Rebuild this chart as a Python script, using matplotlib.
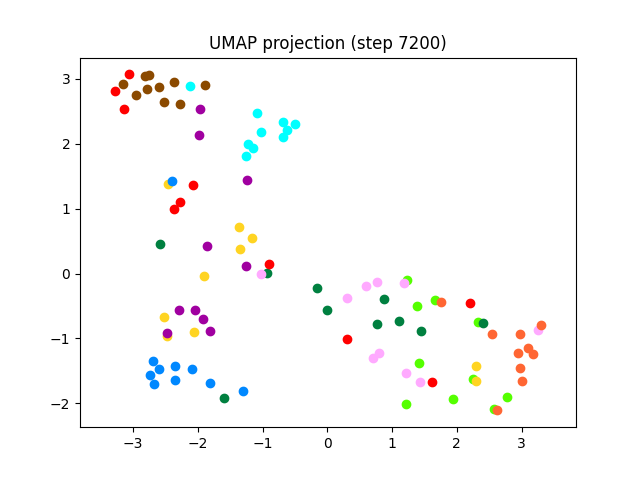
import matplotlib
matplotlib.use("Agg")
import matplotlib.pyplot as plt

# cluster data (x, y)
green_x = [1.23, 1.39, 1.66, 2.32, 1.41, 2.25, 1.22, 1.94, 2.78, 2.57]
green_y = [-0.10, -0.50, -0.41, -0.75, -1.38, -1.62, -2.01, -1.93, -1.90, -2.09]

yellow_x = [-2.46, -1.37, -1.16, -1.35, -1.90, -2.52, -2.48, -2.06, 2.30, 2.29]
yellow_y = [1.38, 0.72, 0.55, 0.38, -0.04, -0.67, -0.96, -0.90, -1.42, -1.66]

darkgreen_x = [-2.59, -0.93, -0.16, 0.00, 0.87, 0.77, 1.11, 1.44, 2.40, -1.60]
darkgreen_y = [0.46, 0.01, -0.23, -0.57, -0.40, -0.78, -0.73, -0.89, -0.77, -1.92]

pink_x = [-1.02, 0.30, 0.60, 0.76, 1.19, 0.80, 0.70, 1.21, 1.43, 3.26]
pink_y = [0.00, -0.37, -0.20, -0.13, -0.14, -1.22, -1.30, -1.54, -1.68, -0.87]

orange_x = [1.75, 2.55, 2.97, 3.30, 3.10, 2.94, 3.17, 2.97, 3.00, 2.62]
orange_y = [-0.44, -0.94, -0.94, -0.79, -1.15, -1.23, -1.24, -1.46, -1.65, -2.11]

purple_x = [-1.96, -1.98, -1.24, -1.86, -1.25, -2.29, -2.05, -1.92, -2.47, -1.82]
purple_y = [2.54, 2.14, 1.45, 0.42, 0.11, -0.57, -0.57, -0.70, -0.92, -0.89]

blue_x = [-2.40, -2.70, -2.60, -2.35, -2.09, -2.74, -2.68, -2.36, -1.82, -1.31]
blue_y = [1.42, -1.35, -1.48, -1.43, -1.48, -1.57, -1.70, -1.64, -1.69, -1.81]

red_x = [-3.06, -3.28, -3.14, -2.07, -2.27, -2.37, -0.90, 0.30, 2.21, 1.62]
red_y = [3.07, 2.82, 2.54, 1.36, 1.11, 1.00, 0.15, -1.01, -0.45, -1.67]

brown_x = [-3.15, -2.95, -2.82, -2.76, -2.78, -2.60, -2.37, -1.89, -2.53, -2.28]
brown_y = [2.92, 2.75, 3.05, 3.06, 2.84, 2.87, 2.96, 2.91, 2.64, 2.62]

cyan_x = [-2.12, -1.08, -0.68, -0.50, -0.62, -0.68, -1.02, -1.23, -1.15, -1.26]
cyan_y = [2.89, 2.47, 2.33, 2.30, 2.21, 2.10, 2.18, 2.00, 1.93, 1.82]

series = [
    (green_x, green_y, "#55ff00"),
    (yellow_x, yellow_y, "#ffd422"),
    (darkgreen_x, darkgreen_y, "#008040"),
    (pink_x, pink_y, "#ffaaff"),
    (orange_x, orange_y, "#ff6633"),
    (purple_x, purple_y, "#a000a0"),
    (blue_x, blue_y, "#0088ff"),
    (red_x, red_y, "#ff0000"),
    (brown_x, brown_y, "#8b4a00"),
    (cyan_x, cyan_y, "#00ffff"),
]

fig, ax = plt.subplots(figsize=(6.4, 4.8), dpi=100)
for xs, ys, c in series:
    ax.scatter(xs, ys, c=c)
ax.set_xlim(-3.82, 3.84)
ax.set_ylim(-2.37, 3.33)
ax.set_title("UMAP projection (step 7200)")
fig.savefig("out.png", dpi=100)
